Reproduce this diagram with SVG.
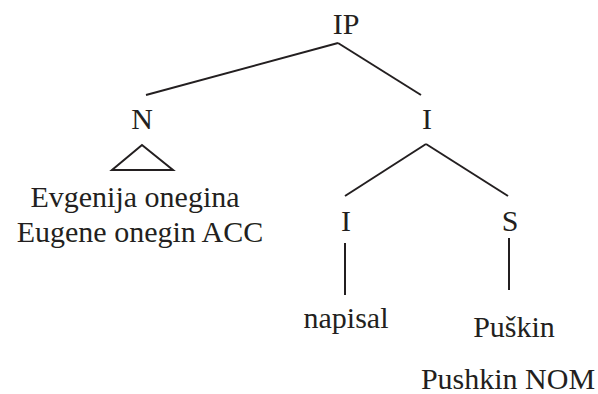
<svg xmlns="http://www.w3.org/2000/svg" width="598" height="394" viewBox="0 0 598 394">
<style>
text{font-family:"Liberation Serif","Times New Roman",serif;font-size:30px;fill:#231f20;text-anchor:middle}
.e{stroke:#231f20;stroke-width:2;fill:none}
</style>
<rect width="598" height="394" fill="#fff"/>
<g id="connectors">
<line class="e" x1="338" y1="43" x2="146" y2="95"/>
<line class="e" x1="338" y1="43" x2="421" y2="95"/>
<line class="e" x1="426" y1="144" x2="345" y2="196"/>
<line class="e" x1="426" y1="144" x2="508" y2="196"/>
<line class="e" x1="345" y1="243" x2="345" y2="295"/>
<line class="e" x1="509" y1="238" x2="509" y2="290"/>
</g>
<g id="IP"><text x="346" y="34">IP</text></g>
<g id="N"><text x="142" y="129">N</text>
<polygon class="e" points="142,145 112,170 173,170"/>
<text x="135" y="207">Evgenija onegina</text>
<text x="140" y="242">Eugene onegin ACC</text></g>
<g id="I1"><text x="427" y="129">I</text></g>
<g id="I2"><text x="346" y="231">I</text></g>
<g id="S"><text x="510" y="231">S</text></g>
<g id="napisal"><text x="346" y="328">napisal</text></g>
<g id="Puskin"><text x="514" y="337">Puškin</text>
<text x="508" y="389">Pushkin NOM</text></g>
</svg>
